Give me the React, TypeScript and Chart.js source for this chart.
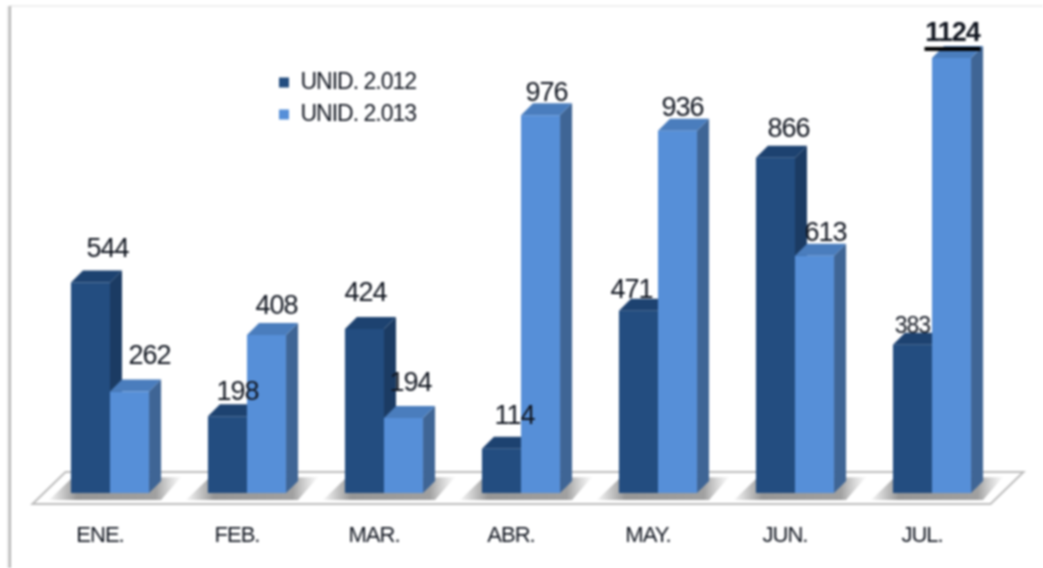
import React, { useEffect, useRef } from "react";
import { Chart, registerables } from "chart.js";

Chart.register(...registerables);

const categories = ["ENE.", "FEB.", "MAR.", "ABR.", "MAY.", "JUN.", "JUL."];
const units2012 = [544, 198, 424, 114, 471, 866, 383];
const units2013 = [262, 408, 194, 976, 936, 613, 1124];
const seriesNames = ["UNID. 2.012", "UNID. 2.013"];

// label placement relative to each bar's centre and top (style only)
const labelOffsets2012 = [[17, -33], [10, -24], [1, -35], [13, -32], [-7, -20], [13, -28], [0, -18]];
const labelOffsets2013 = [[20, -35], [10, -29], [7, -34], [6, -22], [5, -22], [11, -22], [1, -24]];

const DEPTH = 12;
const FONT = '"Liberation Sans", Arial, sans-serif';
const INK = "#10151f";
const faces = [
  { front: "#234d80", side: "#1b3b63", top: "#1d4270" },
  { front: "#568fd8", side: "#3f6595", top: "#4a7dbd" },
];

const decor = {
  id: "decor",
  beforeDraw(chart: any) {
    const { ctx } = chart;
    ctx.save();
    ctx.fillStyle = "#fff";
    ctx.fillRect(0, 0, chart.width, chart.height);
    ctx.fillStyle = "#efefef";
    ctx.fillRect(10, 5, chart.width - 10, 2);
    ctx.fillStyle = "#e6e6e6";
    ctx.fillRect(7, 6, 3, chart.height);
    ctx.fillStyle = "#b4b4b4";
    ctx.fillRect(9, 6, 2, chart.height);
    ctx.restore();
    // the reference's lettering is condensed
    ctx.letterSpacing = "-1px";
  },
  beforeDatasetsDraw(chart: any) {
    const { ctx, chartArea } = chart;
    const base = chartArea.bottom;
    ctx.save();
    // floor
    ctx.beginPath();
    ctx.moveTo(chartArea.left - 9, base + 11);
    ctx.lineTo(chartArea.left + 24, base - 21);
    ctx.lineTo(chartArea.right + 23, base - 21);
    ctx.lineTo(chartArea.right - 10, base + 11);
    ctx.closePath();
    ctx.fillStyle = "#ffffff";
    ctx.fill();
    ctx.strokeStyle = "#bdbdbd";
    ctx.lineWidth = 2;
    ctx.stroke();
    // floor shadows
    const m0 = chart.getDatasetMeta(0).data;
    const m1 = chart.getDatasetMeta(1).data;
    m0.forEach((bar: any, i: number) => {
      const left = bar.x - bar.width / 2;
      const right = m1[i].x + m1[i].width / 2;
      const g = ctx.createLinearGradient(left - 24, 0, right + 34, 0);
      g.addColorStop(0, "rgba(150,150,150,0)");
      g.addColorStop(0.22, "rgba(150,150,150,1)");
      g.addColorStop(0.8, "rgba(160,160,160,1)");
      g.addColorStop(1, "rgba(190,190,190,0)");
      ctx.fillStyle = g;
      ctx.beginPath();
      ctx.moveTo(left - 22, base + 7);
      ctx.lineTo(left, base - 14);
      ctx.lineTo(right + 32, base - 16);
      ctx.lineTo(right + 12, base + 7);
      ctx.closePath();
      ctx.fill();
    });
    // side and top faces of the bars
    [m0, m1].forEach((bars: any[], d: number) => {
      bars.forEach((bar: any) => {
        const l = bar.x - bar.width / 2;
        const r = bar.x + bar.width / 2;
        ctx.fillStyle = faces[d].side;
        ctx.beginPath();
        ctx.moveTo(r, bar.y);
        ctx.lineTo(r + DEPTH, bar.y - DEPTH);
        ctx.lineTo(r + DEPTH, base - DEPTH);
        ctx.lineTo(r, base);
        ctx.closePath();
        ctx.fill();
        ctx.fillStyle = faces[d].top;
        ctx.beginPath();
        ctx.moveTo(l, bar.y);
        ctx.lineTo(l + DEPTH, bar.y - DEPTH);
        ctx.lineTo(r + DEPTH, bar.y - DEPTH);
        ctx.lineTo(r, bar.y);
        ctx.closePath();
        ctx.fill();
      });
    });
    ctx.restore();
  },
  afterDatasetsDraw(chart: any) {
    const { ctx } = chart;
    ctx.save();
    ctx.textAlign = "center";
    ctx.textBaseline = "middle";
    [labelOffsets2012, labelOffsets2013].forEach((offs, d) => {
      const meta = chart.getDatasetMeta(d).data;
      const values = chart.data.datasets[d].data;
      meta.forEach((bar: any, i: number) => {
        const v = values[i];
        const largest = v === Math.max(...units2013);
        const small = v === units2012[6];
        ctx.fillStyle = INK;
        ctx.font = `${largest ? "bold " : ""}${small ? 23 : 27}px ${FONT}`;
        const x = bar.x + offs[i][0];
        const y = bar.y + offs[i][1];
        ctx.fillText(String(v), x, y);
        if (largest) {
          ctx.fillStyle = "#000";
          ctx.fillRect(x - 28, y + 13, 56, 4);
        }
      });
    });
    ctx.restore();
  },
};

const legendPlacer = {
  id: "legendPlacer",
  afterLayout(chart: any) {
    const lg = chart.legend;
    const w = lg.right - lg.left;
    const h = lg.bottom - lg.top;
    lg.left = 270;
    lg.top = 62;
    lg.right = lg.left + w;
    lg.bottom = lg.top + h;
  },
};

export default function App() {
  const ref = useRef<HTMLCanvasElement>(null);
  useEffect(() => {
    const chart = new Chart(ref.current!, {
      type: "bar",
      data: {
        labels: categories,
        datasets: [
          { label: seriesNames[0], data: units2012, backgroundColor: faces[0].front },
          { label: seriesNames[1], data: units2013, backgroundColor: faces[1].front },
        ],
      },
      options: {
        responsive: false,
        animation: false,
        layout: { padding: { left: 41.5, right: 42.5, top: 28.5, bottom: 0 } },
        datasets: { bar: { barPercentage: 1, categoryPercentage: 0.57 } },
        scales: {
          x: {
            grid: { display: false },
            border: { display: false },
            afterFit(scale: any) {
              scale.height = 75;
            },
            ticks: {
              color: INK,
              font: { family: FONT, size: 22 },
              padding: 22,
              labelOffset: -10,
              maxRotation: 0,
            },
          },
          y: { display: false, min: 0, max: 1200 },
        },
        plugins: {
          tooltip: { enabled: false },
          title: { display: false },
          legend: {
            position: "chartArea",
            align: "start",
            labels: {
              color: INK,
              font: { family: FONT, size: 23 },
              boxWidth: 10,
              boxHeight: 10,
              padding: 9,
            },
          },
        },
      },
      plugins: [decor, legendPlacer],
    } as any);
    return () => chart.destroy();
  }, []);
  return (
    <div style={{ position: "absolute", left: 0, top: 0, width: 1043, height: 568, background: "#fff", overflow: "hidden" }}>
      <canvas ref={ref} width={1043} height={568} style={{ display: "block", filter: "blur(0.9px)" }} />
    </div>
  );
}
